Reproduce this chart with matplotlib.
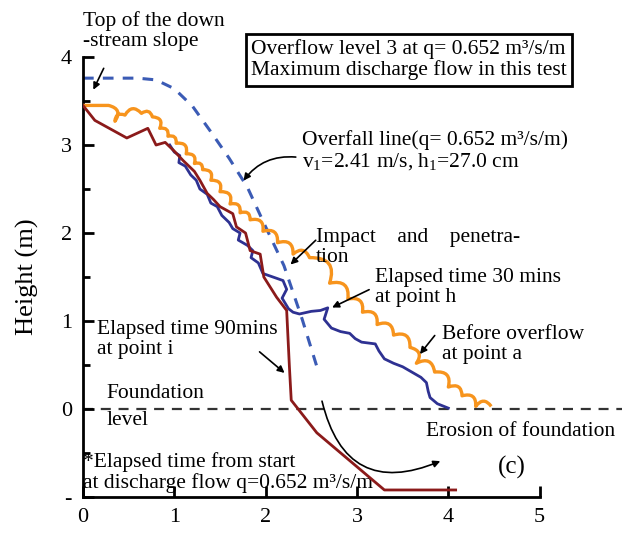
import matplotlib
matplotlib.use("Agg")
import matplotlib.pyplot as plt
from matplotlib.path import Path
from matplotlib.patches import PathPatch

plt.rcParams['font.family'] = ['Liberation Serif', 'DejaVu Serif']
plt.rcParams['mathtext.fontset'] = 'custom'
plt.rcParams['mathtext.rm'] = 'Liberation Serif'
plt.rcParams['mathtext.it'] = 'Liberation Serif:italic'

# ---- data ----
overfall_x = [0.0, 0.3, 0.6, 0.8, 1.0, 1.2, 1.4, 1.6, 1.8, 2.0, 2.2, 2.4, 2.57]
overfall_y = [3.76, 3.76, 3.76, 3.74, 3.64, 3.44, 3.15, 2.85, 2.52, 2.07, 1.63, 1.02, 0.45]

orange_x = [0.0, 0.28, 0.35, 0.46, 0.64, 0.76, 0.84, 0.93, 1.02, 1.13, 1.22, 1.31, 1.40,
            1.50, 1.61, 1.72, 1.83, 1.97, 2.13, 2.30, 2.48, 2.70, 2.90, 3.06, 3.22, 3.40,
            3.58, 3.65, 3.85, 4.00, 4.15, 4.30, 4.47]
orange_y = [3.45, 3.45, 3.27, 3.34, 3.36, 3.32, 3.19, 3.10, 3.02, 2.90, 2.79, 2.72, 2.60,
            2.47, 2.33, 2.23, 2.15, 2.02, 1.89, 1.76, 1.72, 1.43, 1.25, 1.10, 0.96, 0.84,
            0.70, 0.52, 0.42, 0.25, 0.15, 0.03, 0.03]

blue_x = [0.95, 1.00, 1.06, 1.05, 1.12, 1.18, 1.24, 1.28, 1.36, 1.40, 1.47, 1.52, 1.60,
          1.64, 1.72, 1.70, 1.80, 1.86, 1.84, 1.92, 1.97, 2.08, 2.19, 2.23, 2.18, 2.25,
          2.30, 2.37, 2.50, 2.60, 2.68, 2.64, 2.72, 2.82, 2.92, 2.98, 3.05, 3.20, 3.24,
          3.30, 3.40, 3.50, 3.60, 3.70, 3.76, 3.78, 3.80, 3.88, 4.00]
blue_y = [3.00, 2.92, 2.88, 2.80, 2.76, 2.66, 2.60, 2.50, 2.44, 2.34, 2.30, 2.20, 2.12,
          2.05, 2.00, 1.92, 1.86, 1.80, 1.72, 1.66, 1.54, 1.50, 1.46, 1.36, 1.26, 1.14,
          1.10, 1.08, 1.11, 1.12, 1.15, 1.02, 0.92, 0.88, 0.86, 0.80, 0.76, 0.74, 0.66,
          0.57, 0.52, 0.48, 0.42, 0.36, 0.30, 0.20, 0.13, 0.06, 0.01]

brown_x = [0.0, 0.13, 0.48, 0.71, 0.80, 0.90, 1.00, 1.10, 1.22, 1.28, 1.36, 1.43, 1.50,
           1.64, 1.68, 1.78, 1.83, 1.94, 1.98, 2.12, 2.23, 2.26, 2.28, 2.56, 3.30, 4.08]
brown_y = [3.45, 3.28, 3.08, 3.19, 3.00, 3.03, 2.93, 2.82, 2.70, 2.60, 2.45, 2.38, 2.30,
           2.22, 2.07, 2.00, 1.80, 1.76, 1.50, 1.27, 1.12, 0.48, 0.10, -0.27, -0.92, -0.92]

foundation_x = [0.0, 5.9]
foundation_y = [0.0, 0.0]

x_ticks = [0, 1, 2, 3, 4, 5]
y_ticks = [-1, 0, 1, 2, 3, 4]
y_ticklabels = ['-', '0', '1', '2', '3', '4']

# ---- figure ----
fig = plt.figure(figsize=(6.23, 5.35), dpi=100)
ax = fig.add_axes([0.1332, 0.071, 0.865, 0.8224])
ax.set_xlim(0, 5.9)
ax.set_ylim(-1, 4)

ORANGE = '#F7941D'
NAVY = '#2E3192'
BROWN = '#8B1A1A'
DASHBLUE = '#3B5BB5'

ax.plot(foundation_x, foundation_y, color='#333333', lw=1.6, ls=(0, (4.5, 3.5)), zorder=1)
ax.plot(overfall_x, overfall_y, color=DASHBLUE, lw=2.2, ls=(0, (3.5, 3.0)), zorder=2)


def scallop(xs, ys, bulge=0.7):
    verts = [(xs[0], ys[0])]
    codes = [Path.MOVETO]
    for i in range(1, len(xs)):
        x0, y0, x1, y1 = xs[i - 1], ys[i - 1], xs[i], ys[i]
        if i == 1:
            verts.append((x1, y1))
            codes.append(Path.LINETO)
            continue
        dx, dy = x1 - x0, y1 - y0
        cx = (x0 + x1) / 2 - bulge * dy
        cy = (y0 + y1) / 2 + bulge * dx
        verts += [(cx, cy), (x1, y1)]
        codes += [Path.CURVE3, Path.CURVE3]
    return Path(verts, codes)


ax.add_patch(PathPatch(scallop(orange_x, orange_y), facecolor='none',
                       edgecolor=ORANGE, lw=2.4, zorder=3, joinstyle='round'))
ax.plot(blue_x, blue_y, color=NAVY, lw=2.0, zorder=4)
ax.plot(brown_x, brown_y, color=BROWN, lw=2.0, zorder=5)

# axes styling
for s in ['top', 'right']:
    ax.spines[s].set_visible(False)
ax.spines['left'].set_linewidth(2)
ax.spines['bottom'].set_linewidth(2)
ax.spines['bottom'].set_bounds(0, 5)
ax.spines['left'].set_bounds(-1, 4)
ax.set_xticks(x_ticks)
ax.set_xticklabels([str(t) for t in x_ticks])
ax.set_yticks(y_ticks)
ax.set_yticklabels(y_ticklabels)
ax.set_yticks([-0.5, 0.5, 1.5, 2.5, 3.5], minor=True)
ax.tick_params(axis='both', which='major', direction='in', length=8, width=2,
               labelsize=16, pad=8)
ax.tick_params(axis='y', which='minor', direction='in', length=5, width=2)
ax.set_ylabel('Height (m)', fontsize=19, labelpad=16)

FS = 15.5
LS = 1.08
arrowkw = dict(arrowstyle='-|>', color='black', lw=1.2, mutation_scale=10)

ax.text(0.0, 4.3, 'Top of the down\n-stream slope', fontsize=FS, va='center',
        ha='left', linespacing=LS)
ax.annotate('', xy=(0.1, 3.6), xytext=(0.24, 3.9), arrowprops=arrowkw)

ax.text(1.84, 3.97, 'Overflow level 3 at q= 0.652 m³/s/m\nMaximum discharge flow in this test',
        fontsize=FS, va='center', ha='left', linespacing=LS,
        bbox=dict(boxstyle='square,pad=0.25', fc='white', ec='black', lw=2))

ax.text(2.4, 2.93, 'Overfall line(q= 0.652 m³/s/m)\nv$_1$=2.41 m/s, h$_1$=27.0 cm',
        fontsize=FS, va='center', ha='left', linespacing=LS)
ax.annotate('', xy=(1.74, 2.57), xytext=(2.36, 2.86),
            arrowprops=dict(connectionstyle='arc3,rad=0.3', **arrowkw))

ax.text(2.55, 1.84, 'Impact    and    penetra-\ntion', fontsize=FS, va='center',
        ha='left', linespacing=LS)
ax.annotate('', xy=(2.25, 1.62), xytext=(2.57, 1.94), arrowprops=arrowkw)

ax.text(3.2, 1.38, 'Elapsed time 30 mins\nat point h', fontsize=FS, va='center',
        ha='left', linespacing=LS)
ax.annotate('', xy=(2.70, 1.14), xytext=(3.16, 1.37), arrowprops=arrowkw)

ax.text(3.93, 0.73, 'Before overflow\nat point a', fontsize=FS, va='center',
        ha='left', linespacing=LS)
ax.annotate('', xy=(3.67, 0.60), xytext=(3.87, 0.86), arrowprops=arrowkw)

ax.text(0.15, 0.79, 'Elapsed time 90mins\nat point i', fontsize=FS, va='center',
        ha='left', linespacing=LS)
ax.annotate('', xy=(2.23, 0.39), xytext=(1.91, 0.67), arrowprops=arrowkw)

ax.text(0.26, 0.02, 'Foundation\nlevel', fontsize=FS, va='center', ha='left',
        linespacing=1.55)

ax.text(3.75, -0.25, 'Erosion of foundation', fontsize=FS, va='center', ha='left')
ax.annotate('', xy=(3.94, -0.58), xytext=(2.61, 0.12),
            arrowprops=dict(connectionstyle='arc3,rad=0.6', **arrowkw))

ax.text(0.0, -0.72, '*Elapsed time from start\nat discharge flow q=0.652 m³/s/m',
        fontsize=FS, va='center', ha='left', linespacing=LS)
ax.text(4.69, -0.66, '(c)', fontsize=18, va='center', ha='center')

fig.savefig('out.png', dpi=100)
